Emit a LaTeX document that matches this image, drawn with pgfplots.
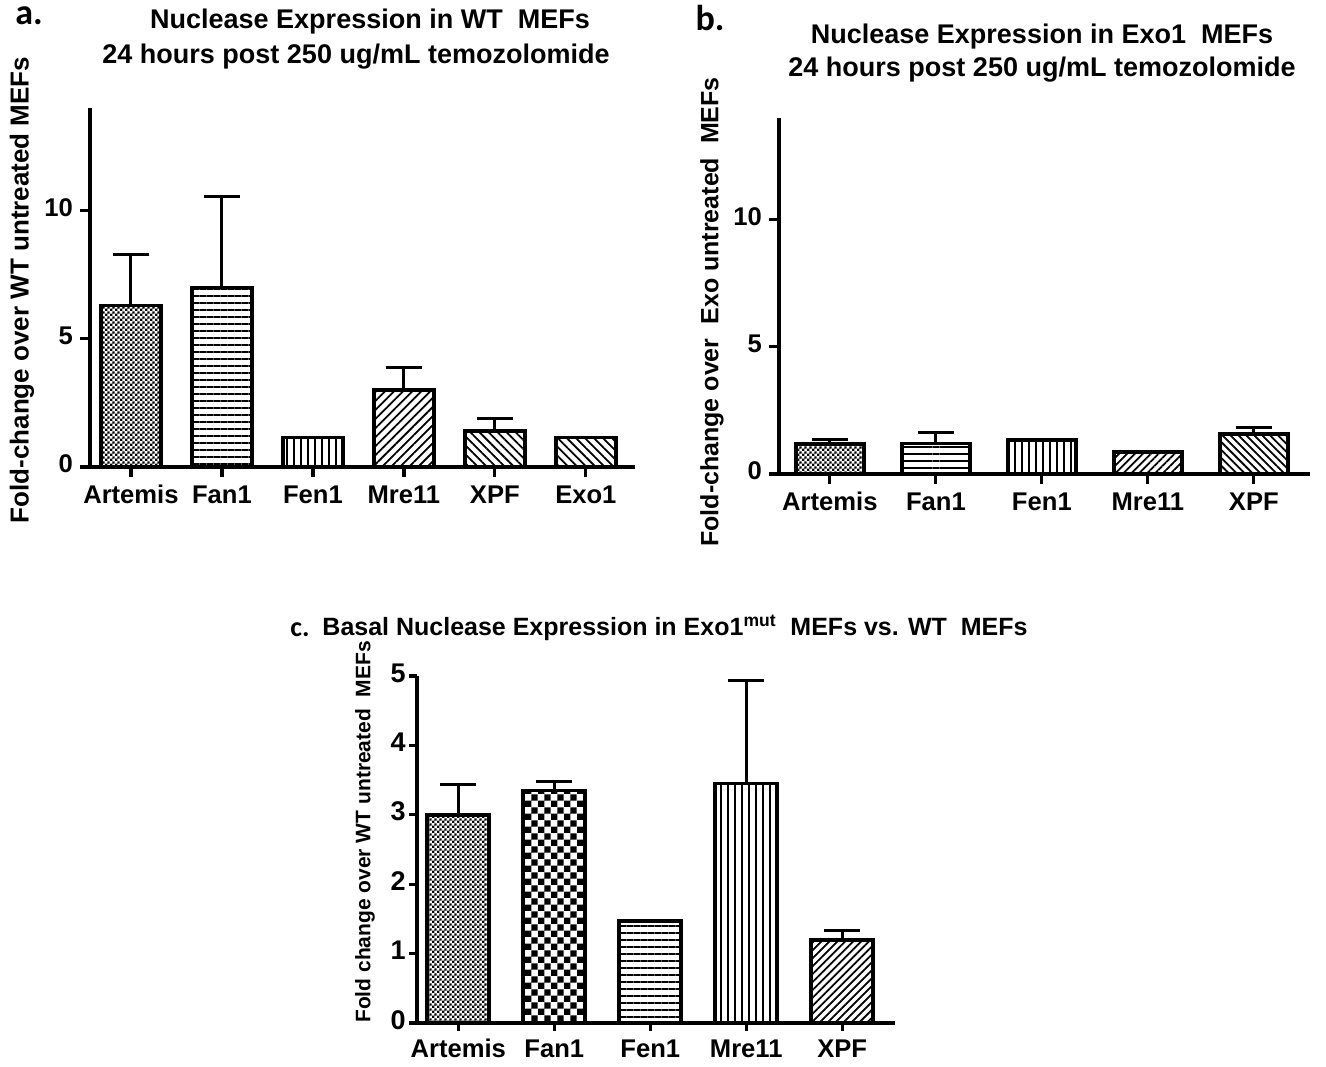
\documentclass[border=0pt]{standalone}
\usepackage{fontspec}
\setmainfont{Liberation Sans}
\newfontfamily\carlito{Carlito}
\usepackage{pgfplots}
\pgfplotsset{compat=1.18}
\usetikzlibrary{patterns,patterns.meta}

\pgfdeclarepatternformonly{checkfine}{\pgfpointorigin}{\pgfqpoint{2.4pt}{2.4pt}}{\pgfqpoint{2.4pt}{2.4pt}}{%
  \pgfpathrectangle{\pgfpointorigin}{\pgfqpoint{1.2pt}{1.2pt}}%
  \pgfpathrectangle{\pgfqpoint{1.2pt}{1.2pt}}{\pgfqpoint{1.2pt}{1.2pt}}%
  \pgfusepath{fill}}
\pgfdeclarepatternformonly{checkcoarse}{\pgfpointorigin}{\pgfqpoint{6.4pt}{6.4pt}}{\pgfqpoint{6.4pt}{6.4pt}}{%
  \pgfpathrectangle{\pgfpointorigin}{\pgfqpoint{3.2pt}{3.2pt}}%
  \pgfpathrectangle{\pgfqpoint{3.2pt}{3.2pt}}{\pgfqpoint{3.2pt}{3.2pt}}%
  \pgfusepath{fill}}

\pgfplotsset{
  gp/.style={
    scale only axis,
    axis x line*=bottom, axis y line*=left,
    axis line style={line width=2pt},
    ybar, bar shift=0pt,
    ymin=0,
    tick align=outside,
    major tick length=5pt,
    every tick/.style={black, line width=1.6pt},
    tick label style={font=\bfseries\fontsize{12.8}{14}\selectfont},
    typeset ticklabels with strut,
    /pgf/number format/assume math mode=true,
    clip=false,
  },
  bb/.style={draw=black, line width=1.9pt},
  eb/.style={error bars/.cd, y dir=plus, y explicit,
    error bar style={line width=1.5pt, black},
    error mark options={rotate=90, mark size=9pt, line width=1.5pt, black}},
}

\begin{document}
\begin{tikzpicture}
% ---------- panel a ----------
\begin{axis}[gp,
  at={(45pt,-233.5pt)}, anchor=south west,
  width=272.5pt, height=179.5pt,
  xmin=-0.45, xmax=5.54, ymax=14,
  bar width=30pt,
  xtick={0,...,5},
  xticklabels={Artemis,Fan1,Fen1,Mre11,XPF,Exo1},
  ytick={0,5,10},
]
\addplot[bb, pattern=checkfine, eb] coordinates {(0,6.3) +- (0,2.0)};
\addplot[bb, pattern={Lines[angle=0,distance=3.5pt,line width=1pt]}, eb] coordinates {(1,7.0) +- (0,3.55)};
\addplot[bb, pattern={Lines[angle=90,distance=3.5pt,line width=1pt]}] coordinates {(2,1.15)};
\addplot[bb, pattern={Lines[angle=45,distance=3.2pt,line width=0.9pt]}, eb] coordinates {(3,3.0) +- (0,0.88)};
\addplot[bb, pattern={Lines[angle=-45,distance=3.2pt,line width=0.9pt]}, eb] coordinates {(4,1.4) +- (0,0.5)};
\addplot[bb, pattern={Lines[angle=-45,distance=3.2pt,line width=0.9pt]}] coordinates {(5,1.15)};
\end{axis}

% ---------- panel b ----------
\begin{axis}[gp,
  at={(389.5pt,-237pt)}, anchor=south west,
  width=265.5pt, height=178pt,
  xmin=-0.48, xmax=4.53, ymax=14,
  bar width=34pt,
  xtick={0,...,4},
  xticklabels={Artemis,Fan1,Fen1,Mre11,XPF},
  ytick={0,5,10},
]
\addplot[bb, pattern=checkfine, eb] coordinates {(0,1.19) +- (0,0.15)};
\addplot[bb, pattern={Lines[angle=0,distance=3.6pt,line width=1pt]}, eb] coordinates {(1,1.2) +- (0,0.42)};
\addplot[bb, pattern={Lines[angle=90,distance=3.5pt,line width=1pt]}] coordinates {(2,1.34)};
\addplot[bb, pattern={Lines[angle=45,distance=2.8pt,line width=0.9pt]}] coordinates {(3,0.87)};
\addplot[bb, pattern={Lines[angle=-45,distance=2.8pt,line width=0.9pt]}, eb] coordinates {(4,1.58) +- (0,0.24)};
\end{axis}

% ---------- panel c ----------
\begin{axis}[gp,
  at={(208.5pt,-511.5pt)}, anchor=south west,
  width=239pt, height=173.5pt,
  xmin=-0.43, xmax=4.55, ymin=0, ymax=5,
  bar width=31pt,
  major tick length=4pt,
  xtick={0,...,4},
  xticklabels={Artemis,Fan1,Fen1,Mre11,XPF},
  ytick={0,1,2,3,4,5},
  yticklabel style={font=\bfseries\fontsize{13.5}{15}\selectfont, inner sep=1.5pt},
]
\addplot[bb, pattern=checkfine, eb] coordinates {(0,3.0) +- (0,0.43)};
\addplot[bb, pattern=checkcoarse, eb] coordinates {(1,3.35) +- (0,0.13)};
\addplot[bb, pattern={Lines[angle=0,distance=3.5pt,line width=1pt]}] coordinates {(2,1.47)};
\addplot[bb, pattern={Lines[angle=90,distance=3.5pt,line width=1pt]}, eb] coordinates {(3,3.45) +- (0,1.48)};
\addplot[bb, pattern={Lines[angle=45,distance=2.8pt,line width=0.9pt]}, eb] coordinates {(4,1.2) +- (0,0.13)};
\end{axis}

% ---------- titles and labels ----------
\node[font=\carlito\bfseries\fontsize{18}{20}\selectfont] at (14.5pt,-8pt) {a.};
\node[font=\carlito\bfseries\fontsize{18}{20}\selectfont] at (355pt,-9pt) {b.};
\node[font=\carlito\bfseries\fontsize{14}{16}\selectfont] at (150pt,-315pt) {c.};

\node[font=\bfseries\fontsize{13.5}{15}\selectfont] at (185pt,-11pt) {Nuclease Expression in WT\ \ MEFs};
\node[font=\bfseries\fontsize{13.5}{15}\selectfont] at (178pt,-28.5pt) {24 hours post 250 ug/mL temozolomide};

\node[font=\bfseries\fontsize{13.5}{15}\selectfont] at (521pt,-18.5pt) {Nuclease Expression in Exo1\ \ MEFs};
\node[font=\bfseries\fontsize{13.5}{15}\selectfont] at (521pt,-35pt) {24 hours post 250 ug/mL temozolomide};

\node[font=\bfseries\fontsize{12.5}{14}\selectfont] at (337.5pt,-314pt) {Basal Nuclease Expression in Exo1\textsuperscript{mut}\ \ MEFs vs. WT\ \ MEFs};

\node[rotate=90, font=\bfseries\fontsize{13}{15}\selectfont] at (11pt,-145pt) {Fold-change over WT untreated MEFs};
\node[rotate=90, font=\bfseries\fontsize{12.5}{14}\selectfont] at (356pt,-156pt) {Fold-change over\ \ Exo untreated\ \ MEFs};
\node[rotate=90, font=\bfseries\fontsize{10.5}{12}\selectfont] at (182.5pt,-416pt) {Fold change over WT untreated\ \ MEFs};

\pgfresetboundingbox
\path (0,0) rectangle (663pt,-533pt);
\end{tikzpicture}
\end{document}
